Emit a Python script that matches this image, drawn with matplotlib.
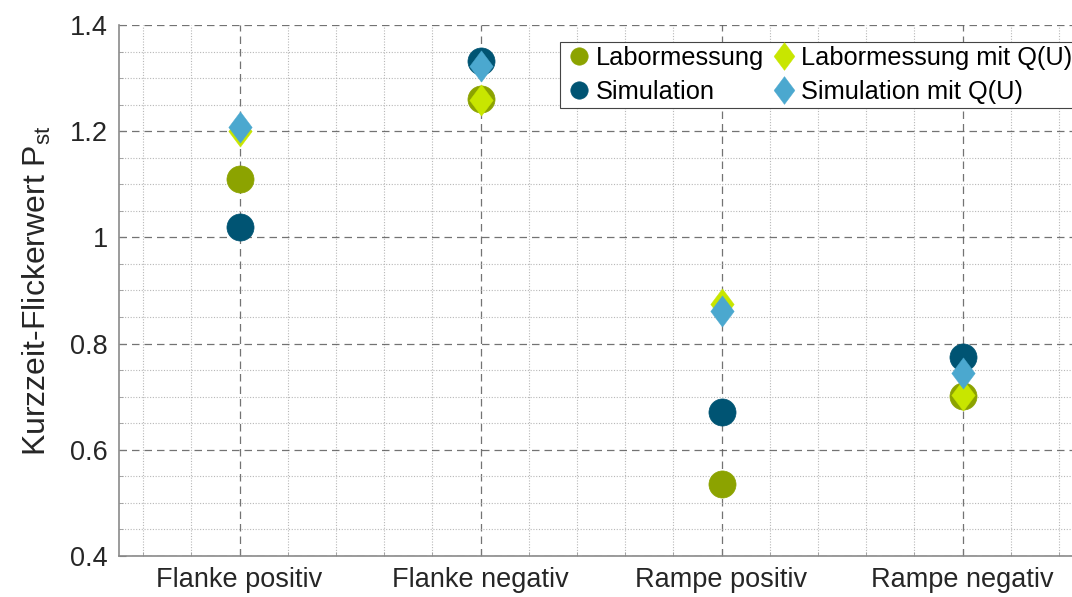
import matplotlib
matplotlib.use("Agg")
import matplotlib.pyplot as plt
from matplotlib.path import Path
from matplotlib.ticker import MultipleLocator
import numpy as np

# ---- data ----
categories = ["Flanke positiv", "Flanke negativ", "Rampe positiv", "Rampe negativ"]
labormessung = [1.110, 1.260, 0.535, 0.702]
simulation = [1.020, 1.333, 0.671, 0.774]
labormessung_qu = [1.200, 1.259, 0.875, 0.703]
simulation_qu = [1.208, 1.323, 0.862, 0.745]
series_labels = ["Labormessung", "Simulation", "Labormessung mit Q(U)", "Simulation mit Q(U)"]
y_ticks = [0.4, 0.6, 0.8, 1.0, 1.2, 1.4]
y_tick_labels = ["0.4", "0.6", "0.8", "1", "1.2", "1.4"]

# ---- style ----
plt.rcParams['font.family'] = ['Liberation Sans', 'DejaVu Sans']
plt.rcParams['mathtext.fontset'] = 'custom'
plt.rcParams['mathtext.rm'] = 'Liberation Sans'
plt.rcParams['mathtext.it'] = 'Liberation Sans'

c_lab = '#8CA300'
c_sim = '#005473'
c_labq = '#C8E600'
c_simq = '#4BA8CF'

diamond = Path([(0, 1), (0.75, 0), (0, -1), (-0.75, 0), (0, 1)],
               [Path.MOVETO, Path.LINETO, Path.LINETO, Path.LINETO, Path.CLOSEPOLY])

fig = plt.figure(figsize=(10.72, 5.97), dpi=100)
ax = fig.add_axes([119/1072, 1-556/597, 964/1072, 531/597])

x = np.arange(1, len(categories) + 1)

h1, = ax.plot(x, labormessung, ls='none', marker='o', ms=19.5, color=c_lab, mec=c_lab, mew=0.5, zorder=3)
h2, = ax.plot(x, simulation, ls='none', marker='o', ms=19.5, color=c_sim, mec=c_sim, mew=0.5, zorder=3)
h3, = ax.plot(x, labormessung_qu, ls='none', marker=diamond, ms=22.5, color=c_labq, mec=c_labq, mew=0.3, zorder=4)
h4, = ax.plot(x, simulation_qu, ls='none', marker=diamond, ms=22.5, color=c_simq, mec=c_simq, mew=0.3, zorder=5)

ax.set_xlim(0.5, 4.5)
ax.set_ylim(0.4, 1.4)
ax.set_xticks(x)
ax.set_xticklabels(categories)
ax.set_yticks(y_ticks)
ax.set_yticklabels(y_tick_labels)
ax.xaxis.set_minor_locator(MultipleLocator(0.2))
ax.yaxis.set_minor_locator(MultipleLocator(0.05))

ax.tick_params(axis='both', which='major', direction='in', length=5, width=0.8,
               color='#777777', labelsize=19.5, labelcolor='#262626', pad=8)
ax.tick_params(axis='both', which='minor', direction='in', length=3, width=0.6, color='#999999')

ax.grid(True, which='major', color='#5a5a5a', lw=0.9, dashes=(6, 4), alpha=0.85, zorder=1)
ax.grid(True, which='minor', color='#b0b0b0', lw=0.8, ls=(0, (1, 1.5)), alpha=0.9, zorder=0)
ax.set_axisbelow(True)

for s in ['top', 'right']:
    ax.spines[s].set_visible(False)
for s in ['left', 'bottom']:
    ax.spines[s].set_color('#8a8a8a')
    ax.spines[s].set_linewidth(1.2)

ax.set_ylabel(r"Kurzzeit-Flickerwert P$_{\mathrm{st}}$", fontsize=23, color='#262626', labelpad=12)

leg = fig.legend([h1, h2, h3, h4], series_labels, ncol=2, loc='upper left',
                 bbox_to_anchor=(560/1072, 1-42/597), bbox_transform=fig.transFigure,
                 fontsize=18.3, frameon=True, fancybox=False, framealpha=1,
                 edgecolor='#444444', borderpad=0.15, handletextpad=0.05,
                 columnspacing=0.2, labelspacing=0.4, handlelength=1.2, borderaxespad=0)
leg.get_frame().set_linewidth(0.8)
for i, h in enumerate(leg.legend_handles):
    if i < 2:
        h.set_markersize(12.5)
    else:
        h.set_markersize(20)

fig.savefig("out.png", dpi=100)
